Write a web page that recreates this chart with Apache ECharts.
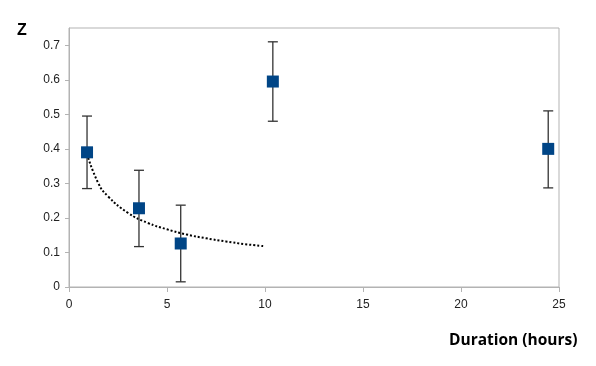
<!DOCTYPE html>
<html><head><meta charset="utf-8">
<script src="https://cdn.jsdelivr.net/npm/echarts@6/dist/echarts.min.js"></script>
<style>html,body{margin:0;padding:0;background:#fff}#c{width:596px;height:366px}</style>
</head><body><div id="c"></div>
<script>
// Measured points
var durations = [0.92, 3.57, 5.7, 10.4, 24.45];
var zValues = [0.39, 0.228, 0.126, 0.595, 0.40];
var errLow = [0.285, 0.117, 0.015, 0.48, 0.287];
var errHigh = [0.495, 0.338, 0.237, 0.71, 0.51];
// Trend line (dotted)
var trendX = [0.92, 1.5, 2, 3, 4, 5, 6, 7, 8, 9, 10];
var trendY = [0.385, 0.30, 0.262, 0.215, 0.186, 0.167, 0.152, 0.141, 0.132, 0.124, 0.118];
var xTicks = [0, 5, 10, 15, 20, 25];
var yTicks = [0, 0.1, 0.2, 0.3, 0.4, 0.5, 0.6, 0.7];

var chart = echarts.init(document.getElementById('c'), null, {renderer:'canvas'});
var axisGray = '#b3b3b3';
var lblStyle = {color:'#222', fontFamily:'Liberation Sans, Arial, sans-serif', fontSize:12};
chart.setOption({
  animation:false,
  grid:{left:69, top:28, right:37, bottom:79, show:true, borderColor:axisGray, borderWidth:1},
  xAxis:{type:'value', min:0, max:25, interval:5,
    axisLine:{lineStyle:{color:axisGray}},
    axisTick:{show:true, length:5, lineStyle:{color:axisGray}},
    splitLine:{show:false},
    axisLabel:Object.assign({margin:12, formatter:function(v){return xTicks.indexOf(v)>=0?String(v):'';}}, lblStyle)},
  yAxis:{type:'value', min:0, max:0.75, interval:0.1,
    axisLine:{show:true, lineStyle:{color:axisGray}},
    axisTick:{show:true, length:4, lineStyle:{color:axisGray}},
    splitLine:{show:false},
    axisLabel:Object.assign({margin:9, showMaxLabel:false, formatter:function(v){
      var r=Math.round(v*10)/10; return yTicks.indexOf(r)>=0 && Math.abs(r-v)<1e-6 ? String(r) : '';}}, lblStyle)},
  graphic:[
    {type:'text', left:17, top:23, style:{text:'Z', fontFamily:'Liberation Sans, Arial, sans-serif', fontWeight:'bold', fontSize:16, fill:'#000'}},
    {type:'text', left:449, top:333, style:{text:'Duration (hours)', fontFamily:'Open Sans, Liberation Sans, sans-serif', fontWeight:'bold', fontSize:15.5, fill:'#000'}}
  ],
  series:[
    {type:'line', data:trendX.map(function(x,i){return [x,trendY[i]];}), smooth:true, showSymbol:false,
     lineStyle:{color:'#000', width:2, type:[2,2]}, z:2},
    {type:'custom', z:3,
     data:durations.map(function(x,i){return [x, errLow[i], errHigh[i]];}),
     renderItem:function(params, api){
       var lo=api.coord([api.value(0), api.value(1)]);
       var hi=api.coord([api.value(0), api.value(2)]);
       var w=5;
       var st={stroke:'#333', lineWidth:1.3};
       return {type:'group', children:[
         {type:'line', shape:{x1:hi[0],y1:hi[1],x2:lo[0],y2:lo[1]}, style:st},
         {type:'line', shape:{x1:hi[0]-w,y1:hi[1],x2:hi[0]+w,y2:hi[1]}, style:st},
         {type:'line', shape:{x1:lo[0]-w,y1:lo[1],x2:lo[0]+w,y2:lo[1]}, style:st}
       ]};
     }},
    {type:'scatter', z:4, data:durations.map(function(x,i){return [x,zValues[i]];}),
     symbol:'rect', symbolSize:12, itemStyle:{color:'#004586', opacity:1}}
  ]
});
</script></body></html>
